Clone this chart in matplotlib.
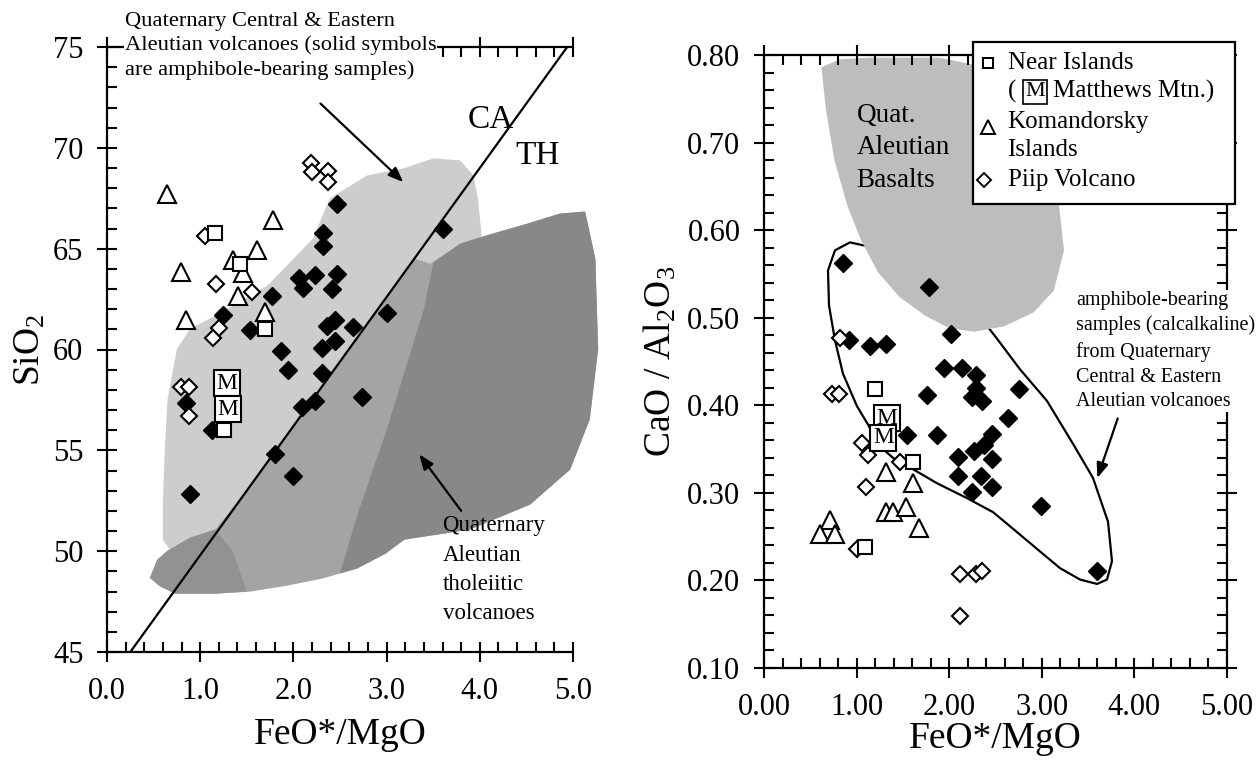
import numpy as np
import matplotlib
matplotlib.use('Agg')
import matplotlib.pyplot as plt
from matplotlib.patches import Polygon, Rectangle
from matplotlib.ticker import MultipleLocator, FormatStrFormatter

plt.rcParams['font.family'] = ['Liberation Serif', 'DejaVu Serif']
plt.rcParams['mathtext.fontset'] = 'custom'
plt.rcParams['mathtext.rm'] = 'Liberation Serif'
plt.rcParams['mathtext.it'] = 'Liberation Serif:italic'
plt.rcParams['mathtext.bf'] = 'Liberation Serif:bold'

# ---------------- LEFT PANEL DATA (FeO*/MgO vs SiO2) ----------------
L_amph_x = [2.47, 2.32, 2.32, 2.06, 2.10, 2.23, 2.47, 2.41, 1.77, 3.61, 3.00, 2.36, 2.45, 2.64,
            2.45, 2.31, 1.87, 1.94, 2.31, 2.23, 2.09, 2.74, 1.24, 1.53, 0.85, 1.13, 1.80, 2.00, 0.89]
L_amph_y = [67.2, 65.8, 65.15, 63.56, 63.06, 63.71, 63.76, 63.01, 62.66, 66.0, 61.82, 61.17, 61.47, 61.12,
            60.42, 60.07, 59.93, 58.98, 58.83, 57.44, 57.14, 57.64, 61.72, 60.97, 57.34, 56.0, 54.8, 53.71, 52.81]
L_kom_x = [0.64, 1.78, 1.61, 1.35, 1.46, 0.79, 1.41, 0.85, 1.70]
L_kom_y = [67.69, 66.44, 64.95, 64.45, 63.81, 63.86, 62.66, 61.47, 61.87]
L_near_x = [1.16, 1.43, 1.70, 1.26]
L_near_y = [65.8, 64.25, 61.02, 56.0]
L_mat_x = [1.29, 1.30]
L_mat_y = [58.33, 57.04]
L_piip_x = [2.19, 2.20, 2.37, 2.37, 1.05, 1.17, 1.56, 1.20, 1.14, 0.79, 0.88, 0.88]
L_piip_y = [69.23, 68.78, 68.83, 68.33, 65.65, 63.26, 62.86, 61.07, 60.57, 58.13, 58.13, 56.69]

# CA / TH dividing line (SiO2 = slope * FeO*/MgO + intercept)
line_slope = 6.4
line_intercept = 43.4

# field outlines (data units)
ca_field_x = [0.60, 0.62, 0.65, 0.75, 0.89, 1.24, 1.72, 2.21, 2.39, 2.79, 3.18, 3.50, 3.79, 3.93, 3.98,
              4.02, 3.89, 3.57, 3.14, 2.71, 2.29, 1.86, 1.32, 0.78, 0.60]
ca_field_y = [52.56, 55.05, 57.54, 60.02, 61.02, 61.87, 63.16, 65.50, 67.49, 68.63, 68.98, 69.48, 69.38, 68.63,
              67.49, 65.65, 63.51, 61.02, 58.03, 55.05, 52.06, 49.58, 49.08, 49.33, 50.57]
th_field_x = [0.46, 0.54, 0.65, 0.89, 1.16, 1.5, 2.0, 2.5, 3.0, 3.3, 3.47, 3.79, 4.14, 4.51, 4.86, 5.13,
              5.24, 5.27, 5.18, 4.97, 4.54, 3.89, 3.19, 2.99, 2.68, 2.30, 1.92, 1.53, 1.15, 0.73, 0.56]
th_field_y = [48.68, 49.58, 50.02, 50.67, 51.07, 53.0, 56.2, 59.4, 62.6, 64.5, 64.25, 65.25, 65.75, 66.24, 66.74, 66.84,
              64.5, 60.02, 56.54, 54.05, 52.31, 51.07, 50.57, 49.88, 49.13, 48.63, 48.28, 47.99, 47.89, 47.89, 48.28]
th_core_x = [3.5, 3.79, 4.14, 4.51, 4.86, 5.13, 5.24, 5.27, 5.18, 4.97, 4.54, 3.89, 3.19, 2.99, 2.68, 2.5,
             2.7, 3.0, 3.2, 3.4]
th_core_y = [64.3, 65.25, 65.75, 66.24, 66.74, 66.84, 64.5, 60.02, 56.54, 54.05, 52.31, 51.07, 50.57, 49.88, 49.13, 48.9,
             52.0, 56.0, 59.0, 62.0]
th_low_x = [0.46, 0.54, 0.65, 0.89, 1.16, 1.35, 1.5, 1.15, 0.73, 0.56]
th_low_y = [48.68, 49.58, 50.02, 50.67, 51.07, 50.0, 48.0, 47.89, 47.89, 48.28]

# ---------------- RIGHT PANEL DATA (FeO*/MgO vs CaO/Al2O3) ----------------
R_amph_x = [0.85, 1.78, 0.92, 1.15, 1.32, 2.02, 1.94, 2.14, 2.29, 2.29, 2.25, 2.35, 1.76, 2.75,
            2.63, 1.54, 1.87, 2.09, 2.09, 2.27, 2.38, 2.46, 2.46, 2.34, 2.25, 2.46, 2.99, 3.60]
R_amph_y = [0.562, 0.535, 0.474, 0.468, 0.470, 0.481, 0.443, 0.443, 0.435, 0.420, 0.409, 0.405, 0.412, 0.419,
            0.385, 0.366, 0.366, 0.341, 0.319, 0.348, 0.355, 0.367, 0.339, 0.319, 0.301, 0.307, 0.285, 0.211]
R_kom_x = [1.32, 1.61, 1.32, 1.39, 1.53, 1.67, 0.71, 0.60, 0.77]
R_kom_y = [0.324, 0.311, 0.278, 0.278, 0.284, 0.260, 0.269, 0.253, 0.253]
R_near_x = [1.20, 1.38, 1.61, 1.09]
R_near_y = [0.419, 0.379, 0.335, 0.238]
R_mat_x = [1.33, 1.29]
R_mat_y = [0.385, 0.363]
R_piip_x = [0.82, 0.73, 0.81, 1.06, 1.12, 1.47, 1.10, 1.00, 2.12, 2.29, 2.35, 2.12]
R_piip_y = [0.477, 0.413, 0.413, 0.357, 0.343, 0.335, 0.307, 0.236, 0.207, 0.207, 0.211, 0.159]

basalt_x = [0.62, 0.82, 1.14, 1.89, 2.54, 2.97, 3.18, 3.24, 3.13, 2.91, 2.59, 2.27, 2.00, 1.73, 1.46,
            1.23, 1.05, 0.90, 0.76, 0.67]
basalt_y = [0.786, 0.795, 0.797, 0.797, 0.783, 0.703, 0.634, 0.577, 0.531, 0.506, 0.490, 0.484, 0.488, 0.503, 0.524,
            0.552, 0.588, 0.628, 0.680, 0.737]
amph_field_x = [1.145, 0.929, 0.767, 0.691, 0.702, 0.767, 0.853, 1.004, 1.123, 1.253, 1.393, 1.609, 1.868, 2.192,
                2.473, 2.689, 2.948, 3.197, 3.413, 3.596, 3.704, 3.758, 3.715, 3.553, 3.337, 3.056, 2.765,
                2.495, 2.279, 1.793, 1.145]
amph_field_y = [0.581, 0.586, 0.577, 0.554, 0.514, 0.474, 0.436, 0.399, 0.378, 0.353, 0.340, 0.327, 0.311, 0.294,
                0.278, 0.259, 0.236, 0.214, 0.201, 0.196, 0.201, 0.222, 0.267, 0.317, 0.356, 0.405, 0.441,
                0.479, 0.508, 0.542, 0.581]

# ---------------- FIGURE ----------------
W, H = 1257, 763
fig = plt.figure(figsize=(W / 100, H / 100), dpi=100)
axL = fig.add_axes([107 / W, 1 - 652 / H, 466 / W, 605 / H])
axR = fig.add_axes([764 / W, 1 - 668 / H, 463 / W, 613 / H])

TICK_FS = 22
LAB_FS = 27


def style_axis(ax, xmaj, xmin, ymaj, ymin, xfmt, yfmt, right):
    ax.xaxis.set_major_locator(MultipleLocator(xmaj))
    ax.xaxis.set_minor_locator(MultipleLocator(xmin))
    ax.yaxis.set_major_locator(MultipleLocator(ymaj))
    ax.yaxis.set_minor_locator(MultipleLocator(ymin))
    ax.xaxis.set_major_formatter(FormatStrFormatter(xfmt))
    ax.yaxis.set_major_formatter(FormatStrFormatter(yfmt))
    ax.tick_params(which='both', top=True, right=right, labelsize=TICK_FS, width=1.5)
    ax.tick_params(which='major', direction='inout', length=14)
    ax.tick_params(axis='x', which='major', pad=11)
    ax.tick_params(axis='y', which='major', pad=10)
    ax.tick_params(which='minor', direction='in', length=7)
    for s in ax.spines.values():
        s.set_linewidth(1.6)
    ax.spines['right'].set_visible(right)


# ---------- left ----------
axL.set_xlim(0, 5)
axL.set_ylim(45, 75)
style_axis(axL, 1.0, 0.2, 5, 1, '%.1f', '%d', False)
axL.add_patch(Polygon(np.column_stack([ca_field_x, ca_field_y]), closed=True, fc='#cdcdcd', ec='none', zorder=1))
axL.add_patch(Polygon(np.column_stack([th_field_x, th_field_y]), closed=True, fc='#a4a4a4', ec='none', zorder=1.1,
                      clip_on=False))
axL.add_patch(Polygon(np.column_stack([th_core_x, th_core_y]), closed=True, fc='#888888', ec='none', zorder=1.2,
                      clip_on=False))
axL.add_patch(Polygon(np.column_stack([th_low_x, th_low_y]), closed=True, fc='#929292', ec='none', zorder=1.2))

lx = np.array([0.0, 5.0])
axL.plot(lx, line_slope * lx + line_intercept, color='black', lw=1.6, zorder=2)

mk = dict(linestyle='none', zorder=3)
axL.plot(L_amph_x, L_amph_y, marker='D', ms=9.0, mfc='black', mec='black', **mk)
axL.plot(L_piip_x, L_piip_y, marker='D', ms=8.6, mfc='white', mec='black', mew=1.5, **mk)
axL.plot(L_kom_x, L_kom_y, marker='^', ms=12.5, mfc='white', mec='black', mew=1.5, **mk)
axL.plot(L_near_x, L_near_y, marker='s', ms=9.6, mfc='white', mec='black', mew=1.5, **mk)
axL.plot(L_mat_x, L_mat_y, marker='s', ms=18.5, mfc='white', mec='black', mew=1.5, linestyle='none', zorder=4)
for x, y in zip(L_mat_x, L_mat_y):
    axL.text(x, y, 'M', fontsize=17, ha='center', va='center', zorder=5)

axL.set_xlabel('FeO*/MgO', fontsize=LAB_FS, labelpad=8)
axL.set_ylabel('SiO$_2$', fontsize=LAB_FS, labelpad=4)

axL.text(0.19, 75.05, 'Quaternary Central & Eastern\nAleutian volcanoes (solid symbols\nare amphibole-bearing samples)',
         fontsize=16.2, ha='left', va='center', linespacing=1.35, zorder=6, clip_on=False,
         bbox=dict(fc='white', ec='none', pad=0.5))
axL.annotate('', xy=(3.18, 68.3), xytext=(2.29, 72.2),
             arrowprops=dict(arrowstyle='-|>,head_length=0.9,head_width=0.35', lw=1.6, color='black',
                             shrinkA=0, shrinkB=0), zorder=6)
axL.text(4.12, 71.4, 'CA', fontsize=24, ha='center', va='center', zorder=6)
axL.text(4.62, 69.6, 'TH', fontsize=24, ha='center', va='center', zorder=6)
axL.text(3.6, 49.08, 'Quaternary\nAleutian\ntholeiitic\nvolcanoes', fontsize=16.5, ha='left', va='center',
         linespacing=1.52, zorder=6)
axL.annotate('', xy=(3.35, 54.8), xytext=(3.8, 52.0),
             arrowprops=dict(arrowstyle='-|>,head_length=0.9,head_width=0.35', lw=1.6, color='black',
                             shrinkA=0, shrinkB=0), zorder=6)

# ---------- right ----------
axR.set_xlim(0, 5)
axR.set_ylim(0.10, 0.80)
style_axis(axR, 1.0, 0.2, 0.1, 0.02, '%.2f', '%.2f', True)
axR.plot(amph_field_x, amph_field_y, color='black', lw=1.6, zorder=1)
axR.add_patch(Polygon(np.column_stack([basalt_x, basalt_y]), closed=True, fc='#bdbdbd', ec='none', zorder=1.5))
axR.text(1.0, 0.745, 'Quat.\nAleutian\nBasalts', fontsize=19.5, ha='left', va='top', linespacing=1.38, zorder=2)

axR.plot(R_amph_x, R_amph_y, marker='D', ms=9.0, mfc='black', mec='black', **mk)
axR.plot(R_piip_x, R_piip_y, marker='D', ms=8.6, mfc='white', mec='black', mew=1.5, **mk)
axR.plot(R_kom_x, R_kom_y, marker='^', ms=12.5, mfc='white', mec='black', mew=1.5, **mk)
axR.plot(R_near_x, R_near_y, marker='s', ms=9.6, mfc='white', mec='black', mew=1.5, **mk)
axR.plot(R_mat_x, R_mat_y, marker='s', ms=18.5, mfc='white', mec='black', mew=1.5, linestyle='none', zorder=4)
for x, y in zip(R_mat_x, R_mat_y):
    axR.text(x, y, 'M', fontsize=17, ha='center', va='center', zorder=5)

axR.set_xlabel('FeO*/MgO', fontsize=LAB_FS, labelpad=0)
axR.set_ylabel('CaO / Al$_2$O$_3$', fontsize=LAB_FS, labelpad=6)

axR.text(3.37, 0.462, 'amphibole-bearing\nsamples (calcalkaline)\nfrom Quaternary\nCentral & Eastern\nAleutian volcanoes',
         fontsize=14.5, ha='left', va='center', linespacing=1.42, zorder=6, clip_on=False,
         bbox=dict(fc='white', ec='none', pad=0.5))
axR.annotate('', xy=(3.60, 0.317), xytext=(3.82, 0.385),
             arrowprops=dict(arrowstyle='-|>,head_length=0.9,head_width=0.35', lw=1.6, color='black',
                             shrinkA=0, shrinkB=0), zorder=6)

# legend box
axR.add_patch(Rectangle((2.26, 0.63), 2.83, 0.185, fc='white', ec='black', lw=1.6, zorder=7, clip_on=False))
lg = dict(zorder=8, clip_on=False, linestyle='none')
axR.plot([2.42], [0.791], marker='s', ms=7.5, mfc='white', mec='black', mew=1.4, **lg)
axR.text(2.63, 0.791, 'Near Islands', fontsize=18, ha='left', va='center', zorder=8)
axR.text(2.63, 0.758, '(', fontsize=18, ha='left', va='center', zorder=8)
axR.plot([2.93], [0.758], marker='s', ms=17, mfc='white', mec='black', mew=1.2, **lg)
axR.text(2.93, 0.758, 'M', fontsize=16, ha='center', va='center', zorder=9)
axR.text(3.12, 0.758, 'Matthews Mtn.)', fontsize=18, ha='left', va='center', zorder=8)
axR.plot([2.42], [0.718], marker='^', ms=10, mfc='white', mec='black', mew=1.4, **lg)
axR.text(2.63, 0.724, 'Komandorsky', fontsize=18, ha='left', va='center', zorder=8)
axR.text(2.63, 0.691, 'Islands', fontsize=18, ha='left', va='center', zorder=8)
axR.plot([2.38], [0.657], marker='D', ms=7, mfc='white', mec='black', mew=1.4, **lg)
axR.text(2.63, 0.657, 'Piip Volcano', fontsize=18, ha='left', va='center', zorder=8)

fig.savefig('out.png', dpi=100)
